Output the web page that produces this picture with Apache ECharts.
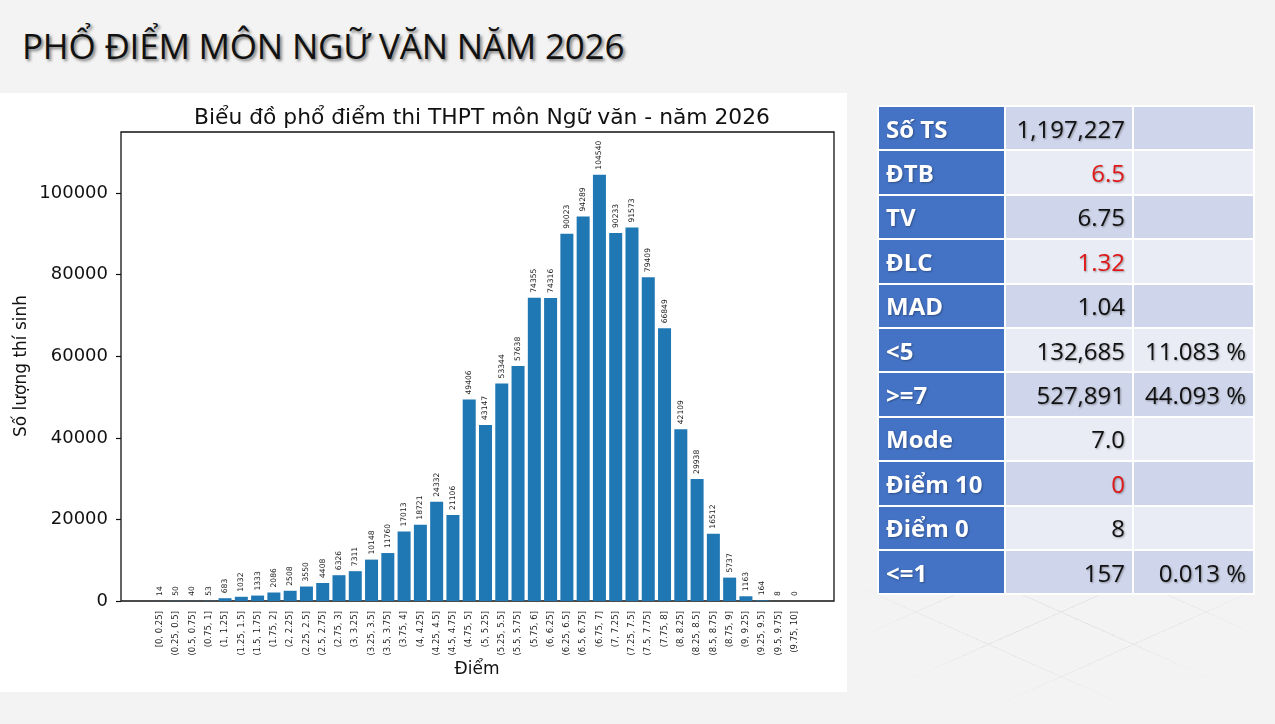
<!DOCTYPE html>
<html>
<head>
<meta charset="utf-8">
<script src="https://cdn.jsdelivr.net/npm/echarts@6/dist/echarts.min.js"></script>
<style>
    body { margin: 0; width: 1275px; height: 724px; background: #f3f3f3; position: relative; overflow: hidden; }
    #heading { position: absolute; left: 22px; top: 22px; margin: 0; font-family: 'Open Sans', sans-serif; font-weight: 400;
        font-size: 35px; letter-spacing: -0.2px; color: #111; text-shadow: 2px 2px 3px rgba(0,0,0,0.5); white-space: nowrap; }
    #panel { position: absolute; left: 0; top: 93px; width: 847px; height: 599px; background: #fff; }
    #pattern { position: absolute; left: 847px; top: 520px; width: 428px; height: 190px;
        background:
            repeating-linear-gradient(24deg, transparent 0 58px, rgba(0,0,0,0.05) 58px 59px),
            repeating-linear-gradient(-24deg, transparent 0 58px, rgba(0,0,0,0.05) 58px 59px);
        -webkit-mask-image: radial-gradient(ellipse at 50% 40%, #000 30%, transparent 75%); }
    #chart { position: absolute; left: 0; top: 0; width: 1275px; height: 724px; }
    #stats { position: absolute; left: 877px; top: 105px; border-collapse: collapse; font-family: 'Open Sans', sans-serif; }
    #stats td { height: 44.4px; padding: 0 7px; border: 2px solid #fff; font-size: 24px; box-sizing: border-box;
        text-shadow: 1px 1px 2px rgba(0,0,0,0.35); color: #111; }
    #stats td.h { background: #4472c4; color: #fff; font-weight: 700; width: 127px; text-shadow: 1px 1px 2px rgba(0,0,0,0.3); }
    #stats td.v { width: 128px; text-align: right; }
    #stats td.p { width: 121px; text-align: right; }
    #stats tr:nth-child(odd) td.v, #stats tr:nth-child(odd) td.p { background: #cfd5ea; }
    #stats tr:nth-child(even) td.v, #stats tr:nth-child(even) td.p { background: #e9ebf5; }
    #stats td.red { color: #e01818; }
</style>
</head>
<body>
<div id="panel"></div>
<div id="pattern"></div>
<h1 id="heading">PHỔ ĐIỂM MÔN NGỮ VĂN NĂM 2026</h1>
<div id="chart"></div>
<table id="stats"></table>
<script>
    // khoảng điểm
    const bins = ['[0, 0.25]', '(0.25, 0.5]', '(0.5, 0.75]', '(0.75, 1]', '(1, 1.25]', '(1.25, 1.5]', '(1.5, 1.75]', '(1.75, 2]',
        '(2, 2.25]', '(2.25, 2.5]', '(2.5, 2.75]', '(2.75, 3]', '(3, 3.25]', '(3.25, 3.5]', '(3.5, 3.75]', '(3.75, 4]',
        '(4, 4.25]', '(4.25, 4.5]', '(4.5, 4.75]', '(4.75, 5]', '(5, 5.25]', '(5.25, 5.5]', '(5.5, 5.75]', '(5.75, 6]',
        '(6, 6.25]', '(6.25, 6.5]', '(6.5, 6.75]', '(6.75, 7]', '(7, 7.25]', '(7.25, 7.5]', '(7.5, 7.75]', '(7.75, 8]',
        '(8, 8.25]', '(8.25, 8.5]', '(8.5, 8.75]', '(8.75, 9]', '(9, 9.25]', '(9.25, 9.5]', '(9.5, 9.75]', '(9.75, 10]']

    // số lượng thí sinh
    const counts = [14, 50, 40, 53, 683, 1032, 1333, 2086, 2508, 3550, 4408, 6326, 7311, 10148, 11760, 17013,
        18721, 24332, 21106, 49406, 43147, 53344, 57638, 74355, 74316, 90023, 94289, 104540, 90233, 91573, 79409, 66849,
        42109, 29938, 16512, 5737, 1163, 164, 8, 0]

    const yTicks = [0, 20000, 40000, 60000, 80000, 100000]

    // bảng thống kê
    const statNames = ['Số TS', 'ĐTB', 'TV', 'ĐLC', 'MAD', '<5', '>=7', 'Mode', 'Điểm 10', 'Điểm 0', '<=1']
    const statValues = ['1,197,227', '6.5', '6.75', '1.32', '1.04', '132,685', '527,891', '7.0', '0', '8', '157']
    const statPercents = ['', '', '', '', '', '11.083 %', '44.093 %', '', '', '', '0.013 %']
    const statRed = ['ĐTB', 'ĐLC', 'Điểm 10']

    let rows = ''
    for (let i = 0; i < statNames.length; i++) {
        let name = statNames[i].replace('<', '&lt;').replace('>=', '&gt;=')
        let red = statRed.indexOf(statNames[i]) >= 0 ? ' red' : ''
        rows += `<tr><td class="h">${name}</td><td class="v${red}">${statValues[i]}</td><td class="p">${statPercents[i]}</td></tr>`
    }
    document.getElementById('stats').innerHTML = rows

    /* biểu đồ */
    const font = 'DejaVu Sans'
    const yMax = 115000
    const chart = echarts.init(document.getElementById('chart'))
    chart.setOption({
        backgroundColor: 'transparent',
        animation: false,
        textStyle: { fontFamily: font },
        title: {
            text: 'Biểu đồ phổ điểm thi THPT môn Ngữ văn - năm 2026',
            left: 477, top: 102, textAlign: 'center',
            textStyle: { fontFamily: font, fontSize: 21.8, fontWeight: 'normal', color: '#111' }
        },
        grid: [
            { left: 121, top: 132, width: 713, height: 469, show: true, borderColor: '#111', borderWidth: 1.3, backgroundColor: 'transparent' },
            { left: 151.8, top: 132, width: 651.1, height: 469 }
        ],
        xAxis: [
            { gridIndex: 0, type: 'value', show: false, min: 0, max: 1 },
            {
                gridIndex: 1, type: 'category', data: bins,
                axisLine: { show: false },
                axisTick: { alignWithLabel: true, length: 5, lineStyle: { color: '#111', width: 1.2 } },
                axisLabel: { interval: 0, rotate: 90, fontSize: 8.5, color: '#222', margin: 10, fontFamily: font }
            }
        ],
        yAxis: [
            {
                gridIndex: 0, type: 'value', min: 0, max: yMax, interval: 20000,
                axisLine: { show: false },
                axisTick: { show: true, length: 5, lineStyle: { color: '#111', width: 1.2 } },
                axisLabel: { fontSize: 18, color: '#111', margin: 13, showMaxLabel: false, fontFamily: font,
                    formatter: v => yTicks.indexOf(v) >= 0 ? String(v) : '' },
                splitLine: { show: false }
            },
            { gridIndex: 1, type: 'value', min: 0, max: yMax, show: false }
        ],
        graphic: [
            { type: 'text', x: 22, y: 366, rotation: Math.PI / 2,
                style: { text: 'Số lượng thí sinh', font: '17px "DejaVu Sans"', fill: '#111', textAlign: 'center', textVerticalAlign: 'middle' } },
            { type: 'text', x: 477, y: 670,
                style: { text: 'Điểm', font: '17px "DejaVu Sans"', fill: '#111', textAlign: 'center', textVerticalAlign: 'middle' } }
        ],
        series: [
            {
                type: 'bar', xAxisIndex: 1, yAxisIndex: 1,
                data: counts,
                barWidth: 13,
                itemStyle: { color: '#1f77b4' },
                label: {
                    show: true, position: 'top', rotate: 90, align: 'left', verticalAlign: 'middle',
                    distance: 5, fontSize: 7.6, color: '#222', fontFamily: font
                }
            }
        ]
    })
</script>
</body>
</html>
